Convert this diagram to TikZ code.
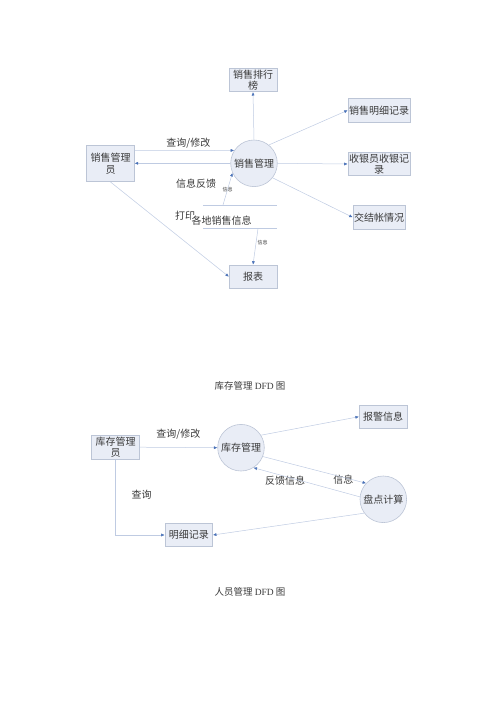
\documentclass[tikz,border=0pt]{standalone}
\usepackage{fontspec}
\setmainfont{Noto Sans CJK SC}
\newfontfamily\latinserif{Liberation Serif}
\usetikzlibrary{arrows.meta}
\definecolor{boxfill}{HTML}{E9EDF6}
\definecolor{boxline}{HTML}{BCC5D6}
\definecolor{flowline}{HTML}{BFCBE2}
\definecolor{tipcol}{HTML}{4A72B8}
\definecolor{txt}{HTML}{3A3A3A}
\tikzset{
  procbox/.style={draw=boxline, fill=boxfill, line width=0.6pt, minimum width=47.6pt, minimum height=23.4pt, inner sep=1pt, align=center, font=\fontsize{10}{11.5}\selectfont, text=txt},
  proccirc/.style={circle, draw=boxline, fill=boxfill, line width=0.6pt, minimum size=46.6pt, inner sep=0pt, font=\fontsize{10}{11.5}\selectfont, text=txt},
  flow/.style={draw=flowline, line width=0.5pt, -{Latex[length=3.5pt,width=3pt,color=tipcol]}},
  lbl/.style={font=\fontsize{10}{11.5}\selectfont, text=txt, inner sep=0pt},
  tinylbl/.style={font=\fontsize{5}{6}\selectfont, text=txt, inner sep=0pt},
  titlelbl/.style={font=\fontsize{9.5}{11}\selectfont, text=txt, inner sep=0pt}
}
\begin{document}
\begin{tikzpicture}[x=1pt, y=-1pt]
\useasboundingbox (0,0) rectangle (500,707);
% ---------- top diagram ----------
\node[proccirc] (c1) at (254,163.3) {销售管理};
\node[procbox] (rank) at (253,80) {销售排行\\榜};
\node[procbox] (detail1) at (379,110.3) {销售明细记录};
\node[procbox] (cash) at (379,164) {收银员收银记\\录};
\node[procbox] (settle) at (379,217.3) {交结帐情况};
\node[procbox, minimum height=36pt] (admin) at (110.5,163.7) {销售管理\\员};
\node[procbox] (report) at (253,276.7) {报表};
\node[minimum width=74pt, minimum height=23.3pt, inner sep=0pt] (store) at (240,216.8) {};
\draw[draw=flowline, line width=0.5pt] (store.north west) -- (store.north east);
\draw[draw=flowline, line width=0.5pt] (store.south west) -- (store.south east);
\node[lbl] (print) at (185,216) {打印};
\node[lbl, fill=white, inner sep=0.5pt] (storetxt) at (221.7,220.3) {各地销售信息};
\node[lbl] (l1) at (188.3,142.7) {查询/修改};
\node[lbl] (l2) at (196,184) {信息反馈};
\node[tinylbl] (l3) at (227.7,190) {信息};
\node[tinylbl] (l4) at (262.7,242.7) {信息};
\draw[flow] ([yshift=13pt]admin.east) -- (c1.147);
\draw[flow] (c1.west) -- (c1.west -| admin.east);
\draw[flow] (c1.north) -- (rank.south);
\draw[flow] (c1.51) -- (detail1.west);
\draw[flow] (c1.east) -- (cash.west);
\draw[flow] (c1.-38) -- (settle.west);
\draw[flow] (admin.south) -- (report.west);
\draw[flow] ([xshift=-17pt]store.north) -- (c1.204);
\draw[flow] ([xshift=18pt]store.south) -- (report.north);
\node[titlelbl] (t1) at (250,386) {库存管理 {\latinserif DFD} 图};
% ---------- bottom diagram ----------
\node[proccirc] (c2) at (241,447.7) {库存管理};
\node[proccirc] (c3) at (383.3,499.3) {盘点计算};
\node[procbox, minimum height=24.3pt] (kadmin) at (115.5,447.2) {库存管理\\员};
\node[procbox] (alarm) at (383,416.7) {报警信息};
\node[procbox] (kdetail) at (188.8,535) {明细记录};
\node[lbl] (l5) at (178.3,434.3) {查询/修改};
\node[lbl] (l6) at (141.7,495) {查询};
\node[lbl] (l7) at (285,481) {反馈信息};
\node[lbl] (l8) at (343.3,479.3) {信息};
\draw[flow] (kadmin.east) -- (c2.west);
\draw[flow] (c2.32) -- (alarm.west);
\draw[flow] (c2.-22) -- (c3.137);
\draw[flow] (c3.174) -- (c2.302);
\draw[flow] (c3.216) -- (kdetail.east);
\draw[flow] (kadmin.south) |- (kdetail.west);
\node[titlelbl] (t2) at (250,591.7) {人员管理 {\latinserif DFD} 图};
\end{tikzpicture}
\end{document}
